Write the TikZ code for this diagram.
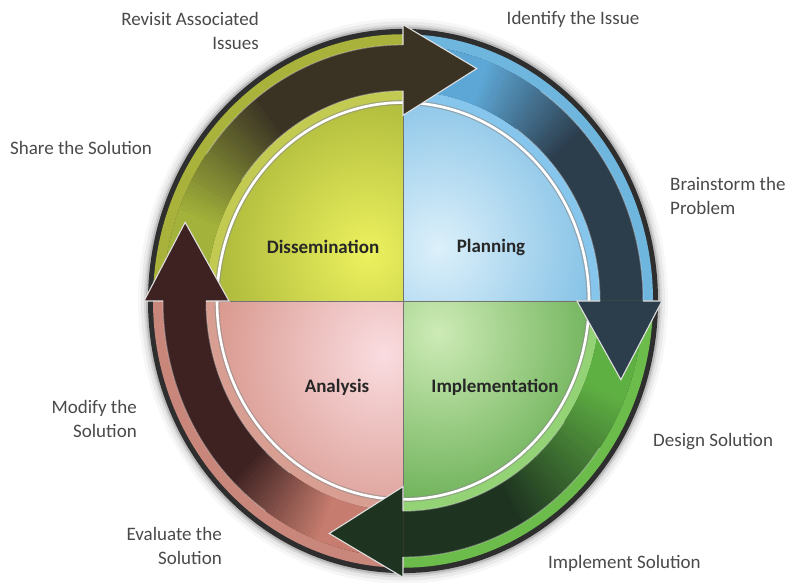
\documentclass[tikz,border=0pt]{standalone}
\usepackage{fontspec}
\setmainfont{Carlito}
\definecolor{lbl}{HTML}{4A4A4A}
\definecolor{qlbl}{HTML}{262626}
\definecolor{rimc}{HTML}{2E2E2E}
% top-left (Dissemination)
\definecolor{tlin}{HTML}{ECF15E}
\definecolor{tlout}{HTML}{8E9E2A}
\definecolor{tlband}{HTML}{A9B33C}
\definecolor{tlinb}{HTML}{C2CA52}
\definecolor{tllight}{HTML}{A2B23A}
\definecolor{tldark}{HTML}{3A3324}
% top-right (Planning)
\definecolor{trin}{HTML}{DCF0FA}
\definecolor{trout}{HTML}{58AADC}
\definecolor{trband}{HTML}{6FB6DE}
\definecolor{trinb}{HTML}{86C6EC}
\definecolor{trlight}{HTML}{5DA7D6}
\definecolor{trdark}{HTML}{2C3D4C}
% bottom-right (Implementation)
\definecolor{brin}{HTML}{CDEBB6}
\definecolor{brout}{HTML}{479A33}
\definecolor{brband}{HTML}{6CBC4C}
\definecolor{brinb}{HTML}{94D276}
\definecolor{brlight}{HTML}{5FB043}
\definecolor{brdark}{HTML}{1E3320}
% bottom-left (Analysis)
\definecolor{blin}{HTML}{FADCE0}
\definecolor{blout}{HTML}{CC7E6E}
\definecolor{blband}{HTML}{C9867A}
\definecolor{blinb}{HTML}{D89E92}
\definecolor{bllight}{HTML}{C67C6E}
\definecolor{bldark}{HTML}{3D2221}
\begin{document}
\begin{tikzpicture}[x=1pt,y=1pt]
\tikzset{
  lab/.style={text=lbl, font=\fontsize{19}{24}\selectfont, inner sep=0pt},
  qlab/.style={text=qlbl, font=\fontsize{19}{24}\selectfont\bfseries, inner sep=0pt},
  divline/.style={draw=black!55, line width=0.7},
  headedge/.style={draw=white!88!black, line width=1.1, line join=miter},
}
\useasboundingbox (0,0) rectangle (793,583);
\fill[white] (0,0) rectangle (793,583);
\begin{scope}[shift={(403,282)}, yscale=1.067]
  % soft shadow
  \foreach \r/\o in {265/0.03,262/0.05,259/0.08,257/0.14}
    \fill[black,opacity=\o] (0,0) circle (\r);
  % rim
  \fill[rimc] (0,0) circle (255);
  % inner disk quadrants
  \begin{scope}
    \clip (0,0) -- (90:192) arc[start angle=90,end angle=180,radius=192] -- cycle;
    \shade[inner color=tlin, outer color=tlout] (-35,45) circle (230);
  \end{scope}
  \begin{scope}
    \clip (0,0) -- (0:192) arc[start angle=0,end angle=90,radius=192] -- cycle;
    \shade[inner color=trin, outer color=trout] (35,50) circle (240);
  \end{scope}
  \begin{scope}
    \clip (0,0) -- (-90:192) arc[start angle=-90,end angle=0,radius=192] -- cycle;
    \shade[inner color=brin, outer color=brout] (35,-30) circle (230);
  \end{scope}
  \begin{scope}
    \clip (0,0) -- (180:192) arc[start angle=180,end angle=270,radius=192] -- cycle;
    \shade[inner color=blin, outer color=blout] (-20,-50) circle (240);
  \end{scope}
  % ring bands and arrow shafts
  \foreach \a/\cout/\cin/\cl/\cd/\gs/\ge in {
      180/tlband/tlinb/tllight/tldark/20/52,
      90/trband/trinb/trlight/trdark/20/48,
      0/brband/brinb/brlight/brdark/22/60,
      -90/blband/blinb/bllight/bldark/20/45}{
    \pgfmathsetmacro\b{\a-90}
    \fill[fill=\cout] (\a:240) arc[start angle=\a,end angle=\b,radius=240]
       -- (\b:250) arc[start angle=\b,end angle=\a,radius=250] -- cycle;
    \fill[fill=\cin] (\a:185) arc[start angle=\a,end angle=\b,radius=185]
       -- (\b:197) arc[start angle=\b,end angle=\a,radius=197] -- cycle;
    \foreach \k in {0,...,89}{
      \pgfmathsetmacro\s{\a-\k}
      \pgfmathsetmacro\e{\a-\k-1.6}
      \pgfmathtruncatemacro\t{max(0,min(100,(\k-\gs)/(\ge-\gs)*100))}
      \fill[fill=\cd!\t!\cl] (\s:197) arc[start angle=\s,end angle=\e,radius=197]
        -- (\e:240) arc[start angle=\e,end angle=\s,radius=240] -- cycle;
    }
  }
  % white inner ring
  \draw[black!45, line width=5, opacity=0.6] (0,0) circle (186);
  \draw[white, line width=2.6] (0,0) circle (186);
  % quadrant dividers
  \draw[divline] (0,-183) -- (0,183);
  \draw[divline] (-183,0) -- (183,0);
  % arrowheads
  \foreach \b/\cd in {90/tldark, 0/trdark, -90/brdark, 180/bldark}{
    \pgfmathsetmacro\tp{\b-18.7}
    \pgfmathsetmacro\st{\b+55}
    \fill[fill=\cd] (\b:174) -- (\tp:230) -- (\b:259) -- cycle;
    \draw[headedge] (\b:197) -- (\b:174) -- (\tp:230) -- (\b:259) -- (\b:240);
    \draw[white, opacity=0.35, line width=1] (\st:240) arc[start angle=\st,end angle=\b,radius=240];
    \draw[white, opacity=0.35, line width=1] (\st:197) arc[start angle=\st,end angle=\b,radius=197];
  }
\end{scope}
% quadrant labels
\node[qlab] (dis) at (323,336) {Dissemination};
\node[qlab] (pla) at (491,336) {Planning};
\node[qlab] (ana) at (337,196) {Analysis};
\node[qlab] (imp) at (495,196) {Implementation};
% step labels
\node[lab, align=right, anchor=east] (rev) at (259,552) {Revisit Associated\\Issues};
\node[lab] (ide) at (573,564) {Identify the Issue};
\node[lab, align=left, anchor=west] (bra) at (670,387) {Brainstorm the\\Problem};
\node[lab, anchor=west] (des) at (653,141) {Design Solution};
\node[lab, anchor=west] (ims) at (548,20) {Implement Solution};
\node[lab, align=right, anchor=east] (eva) at (222,37) {Evaluate the\\Solution};
\node[lab, align=right, anchor=east] (mod) at (137,164) {Modify the\\Solution};
\node[lab, anchor=west] (sha) at (10,435) {Share the Solution};
\end{tikzpicture}
\end{document}
